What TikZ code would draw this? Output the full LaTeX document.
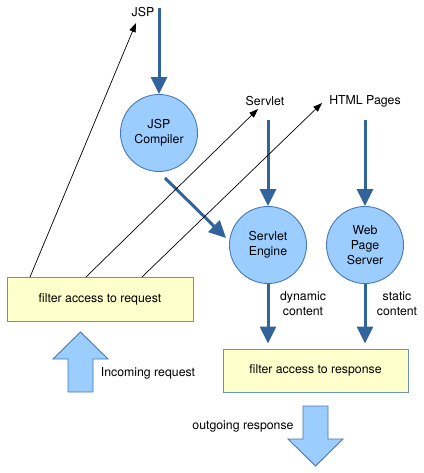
\documentclass[tikz,border=0pt]{standalone}
\usepackage{fontspec}
\setmainfont{TeX Gyre Heros}
\usetikzlibrary{arrows.meta}
\definecolor{flowblue}{RGB}{50,100,155}
\definecolor{circfill}{RGB}{155,205,255}
\definecolor{circline}{RGB}{70,120,180}
\definecolor{boxfill}{RGB}{255,255,204}
\definecolor{boxline}{RGB}{110,145,185}
\tikzset{
  proc/.style={circle, draw=circline, line width=0.9pt, fill=circfill, minimum size=77pt, inner sep=0pt, align=center},
  filterbox/.style={rectangle, draw=boxline, line width=1pt, fill=boxfill, inner sep=0pt, align=center},
  lbl/.style={inner sep=0pt, align=center},
  flow/.style={draw=flowblue, line width=3pt, -{Triangle[length=17pt,width=16pt]}},
  thinarrow/.style={draw=black, line width=0.7pt, -{Triangle[length=9pt,width=6.5pt]}},
  blockarrow/.style={draw=circline, line width=0.9pt, fill=circfill}
}
\begin{document}
\begin{tikzpicture}[x=1pt,y=-1pt,font=\fontsize{12.3}{15}\selectfont]
\useasboundingbox (0,0) rectangle (423,473);
% labels
\node[lbl] (jsp) at (143,12) {JSP};
\node[lbl] (servlet) at (265,101) {Servlet};
\node[lbl] (html) at (365,101) {HTML Pages};
% circles
\node[proc] (jspc) at (159,133) {JSP\\Compiler};
\node[proc] (se) at (268,245) {Servlet\\Engine};
\node[proc] (wps) at (365,245) {Web\\Page\\Server};
% boxes
\node[filterbox, minimum width=186pt, minimum height=44pt] (req) at (100,299) {filter access to request};
\node[filterbox, minimum width=185pt, minimum height=43pt] (resp) at (315.5,370.5) {filter access to response};
% text labels
\node[lbl] (dyn) at (303,304) {dynamic\\content};
\node[lbl] (stat) at (397,304) {static\\content};
\node[lbl] (inc) at (148,373) {Incoming request};
\node[lbl] (out) at (243,426) {outgoing response};
% coordinates
\coordinate (jsptop) at (159,8);
\coordinate (servtop) at (268,120);
\coordinate (htmltop) at (365,120);
\coordinate (c1) at (165,178);
\coordinate (c2) at (226,238);
\coordinate (t1) at (136,23);
\coordinate (t2) at (258,109);
\coordinate (t3) at (322,103);
\coordinate (r1) at (30,277);
\coordinate (r2) at (86,277);
\coordinate (r3) at (142,277);
% thick flows
\draw[flow] (jsptop) -- (jspc.north);
\draw[flow] (c1) -- (c2);
\draw[flow] (servtop) -- (se.north);
\draw[flow] (htmltop) -- (wps.north);
\draw[flow, shorten >=5pt] (se.south) -- (se.south |- resp.north);
\draw[flow, shorten >=5pt] (wps.south) -- (wps.south |- resp.north);
% thin arrows
\draw[thinarrow] (r1) -- (t1);
\draw[thinarrow] (r2) -- (t2);
\draw[thinarrow] (r3) -- (t3);
% block arrows
\draw[blockarrow] (68,392) -- (68,359) -- (53,359) -- (80.5,332) -- (108,359) -- (93,359) -- (93,392) -- cycle;
\draw[blockarrow] (303,406) -- (328,406) -- (328,439) -- (343,439) -- (315.5,466) -- (288,439) -- (303,439) -- cycle;
\end{tikzpicture}
\end{document}
